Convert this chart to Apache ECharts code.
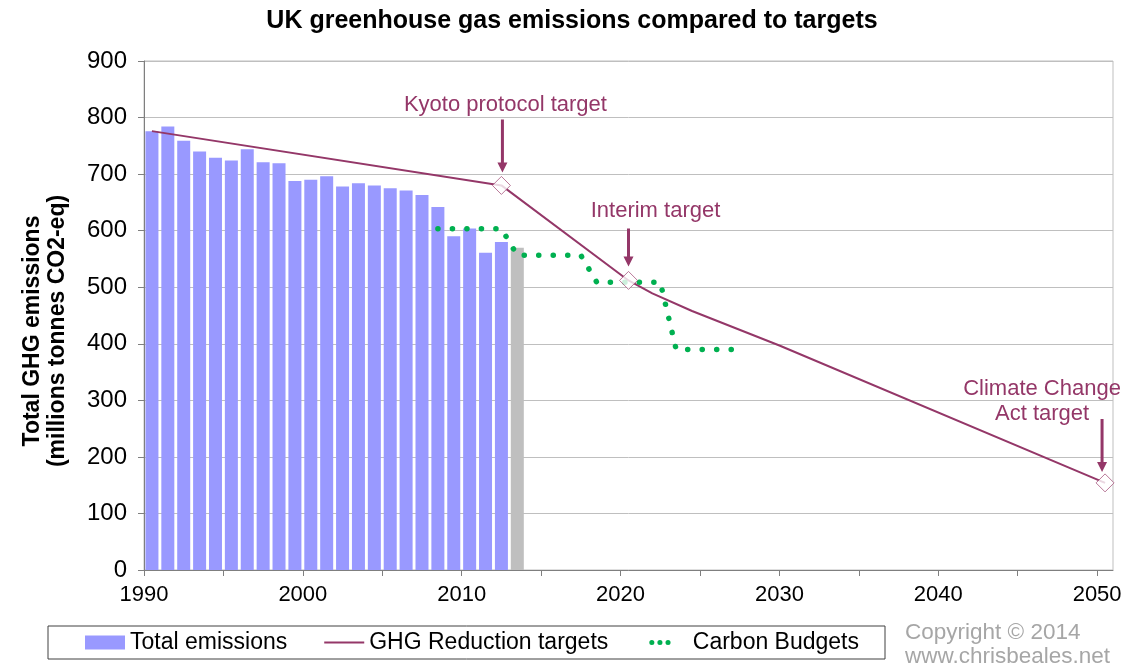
<!DOCTYPE html>
<html>
<head>
<meta charset="utf-8">
<title>UK greenhouse gas emissions compared to targets</title>
<script src="https://cdn.jsdelivr.net/npm/echarts@6/dist/echarts.min.js"></script>
<style>
  html, body { margin: 0; padding: 0; background: #fff; }
  #chart { width: 1144px; height: 668px; }
</style>
</head>
<body>
<div id="chart"></div>
<script>
// total emissions, one bar per year (2013 is the provisional figure, grey)
var emissionYears = [1990, 1991, 1992, 1993, 1994, 1995, 1996, 1997, 1998, 1999, 2000, 2001,
                     2002, 2003, 2004, 2005, 2006, 2007, 2008, 2009, 2010, 2011, 2012, 2013];
var emissionValues = [776, 784, 759, 740, 729, 724, 744, 721, 719, 688, 690, 696,
                      678, 684, 680, 675, 671, 663, 642, 590, 604, 561, 580, 570];
var provisionalYear = 2013;

// GHG reduction target path
var targetYears = [1990.5, 2012.5, 2020.5, 2022, 2024.5, 2030, 2050.5];
var targetValues = [776, 680, 512, 489, 458, 397, 154];

// the three named targets (diamonds with arrows)
var milestoneNames = ['Kyoto protocol target', 'Interim target', 'Climate Change\nAct target'];
var milestoneYears = [2012.5, 2020.5, 2050.5];
var milestoneValues = [680, 512, 154];

// carbon budgets, annual average of each 5 year budget
var budgetYears = [2008.5, 2009.5, 2010.5, 2011.5, 2012.5, 2013.5, 2014.5, 2015.5, 2016.5, 2017.5,
                   2018.5, 2019.5, 2020.5, 2021.5, 2022.5, 2023.5, 2024.5, 2025.5, 2026.5, 2027.5];
var budgetValues = [603.6, 603.6, 603.6, 603.6, 603.6, 556.4, 556.4, 556.4, 556.4, 556.4,
                    508.8, 508.8, 508.8, 508.8, 508.8, 390, 390, 390, 390, 390];

// axis ticks
var xTickYears = [1990, 1995, 2000, 2005, 2010, 2015, 2020, 2025, 2030, 2035, 2040, 2045, 2050];
var xLabelYears = [1990, 2000, 2010, 2020, 2030, 2040, 2050];

var FONT = 'Arial, "Liberation Sans", sans-serif';
var PLUM = '#943768';

// annotation layout (pixels): label offset from the diamond, arrow length, gap to diamond, arrow x shift
var annoLayout = [
  { label: [4, -80], len: 53, gap: 13, dx: 1 },
  { label: [27, -69], len: 38, gap: 14, dx: 0 },
  { label: [-63, -81], len: 53, gap: 11, dx: -3 }
];

function arrowPath(len) {
  var h = len - 10;
  return 'path://M3.5,0L6.5,0L6.5,' + h + 'L10,' + h + 'L5,' + len + 'L0,' + h + 'L3.5,' + h + 'Z';
}

var barData = emissionYears.map(function (y, i) {
  var item = { value: [y + 0.5, emissionValues[i]] };
  if (y === provisionalYear) item.itemStyle = { color: '#BFBFBF' };
  return item;
});

var markData = [];
milestoneNames.forEach(function (name, i) {
  var c = [milestoneYears[i], milestoneValues[i]];
  var l = annoLayout[i];
  markData.push({
    coord: c,
    symbol: arrowPath(l.len),
    symbolSize: [10, l.len],
    symbolOffset: [l.dx, -(l.len / 2 + l.gap)],
    itemStyle: { color: PLUM },
    label: { show: false }
  });
  markData.push({
    coord: c,
    symbol: 'circle',
    symbolSize: 1,
    itemStyle: { color: 'rgba(0,0,0,0)' },
    label: {
      show: true, position: 'inside', formatter: name, offset: l.label,
      color: PLUM, fontSize: 22, fontFamily: FONT, lineHeight: 25, align: 'center'
    }
  });
});

var chart = echarts.init(document.getElementById('chart'));
chart.setOption({
  animation: false,
  backgroundColor: '#fff',
  title: {
    text: 'UK greenhouse gas emissions compared to targets',
    left: 'center', top: 4,
    textStyle: { fontSize: 25, fontWeight: 'bold', color: '#000', fontFamily: FONT }
  },
  grid: { left: 144, right: 31, top: 61, bottom: 98, show: true, borderColor: '#BFBFBF', borderWidth: 1 },
  legend: {
    left: 48, top: 626,
    padding: [5, 26, 5, 37],
    itemGap: 37, itemWidth: 40, itemHeight: 14,
    borderColor: '#404040', borderWidth: 1, backgroundColor: '#fff',
    textStyle: { fontSize: 23, color: '#000', fontFamily: FONT },
    data: [
      { name: 'Total emissions', icon: 'rect' },
      { name: 'GHG Reduction targets', icon: 'path://M0,0L40,0L40,2L0,2Z' },
      {
        name: 'Carbon Budgets',
        lineStyle: { type: [0.1, 8, 0.1, 8, 0.1, 40], width: 5, cap: 'round', dashOffset: 52.3 },
        itemStyle: { opacity: 0 }
      }
    ]
  },
  graphic: [
    {
      type: 'text', x: 45, y: 331, rotation: Math.PI / 2,
      style: {
        text: 'Total GHG emissions\n(millions tonnes CO2-eq)',
        font: 'bold 23px ' + FONT, fill: '#000',
        align: 'center', verticalAlign: 'middle', lineHeight: 25
      }
    },
    {
      type: 'text', left: 905, top: 621,
      style: {
        text: 'Copyright \u00a9 2014\nwww.chrisbeales.net',
        font: '22.5px ' + FONT, fill: '#A6A6A6', lineHeight: 24
      }
    }
  ],
  xAxis: {
    type: 'value', min: 1990, max: 2051,
    axisLine: { show: true, onZero: false, lineStyle: { color: '#7F7F7F', width: 1 } },
    axisTick: { show: true, length: 6, customValues: xTickYears, lineStyle: { color: '#7F7F7F' } },
    axisLabel: {
      customValues: xLabelYears, fontSize: 22, color: '#000', fontFamily: FONT, margin: 14,
      formatter: function (v) { return String(v); }
    },
    splitLine: { show: false }
  },
  yAxis: {
    type: 'value', min: 0, max: 900, interval: 100,
    axisLine: { show: true, onZero: false, lineStyle: { color: '#7F7F7F', width: 1 } },
    axisTick: { show: true, length: 6, lineStyle: { color: '#7F7F7F' } },
    axisLabel: { fontSize: 24, color: '#000', fontFamily: FONT, margin: 17 },
    splitLine: { show: true, lineStyle: { color: '#BFBFBF', width: 1 } }
  },
  series: [
    {
      name: 'Total emissions', type: 'bar',
      barWidth: 13,
      itemStyle: { color: '#9999FF' },
      data: barData
    },
    {
      name: 'GHG Reduction targets', type: 'line',
      symbol: 'none',
      lineStyle: { color: PLUM, width: 2 },
      itemStyle: { color: PLUM },
      data: targetYears.map(function (y, i) { return [y, targetValues[i]]; })
    },
    {
      name: 'Carbon Budgets', type: 'line',
      symbol: 'none',
      lineStyle: { color: '#00B050', width: 5.5, type: [0.1, 14.4], cap: 'round' },
      itemStyle: { color: '#00B050' },
      data: budgetYears.map(function (y, i) { return [y, budgetValues[i]]; })
    },
    {
      name: 'Targets', type: 'scatter',
      symbol: 'diamond', symbolSize: 18,
      itemStyle: { color: '#fff', borderColor: '#A8587F', borderWidth: 1 },
      data: milestoneYears.map(function (y, i) { return [y, milestoneValues[i]]; }),
      markPoint: { silent: true, animation: false, data: markData },
      z: 5
    }
  ]
});
</script>
</body>
</html>
